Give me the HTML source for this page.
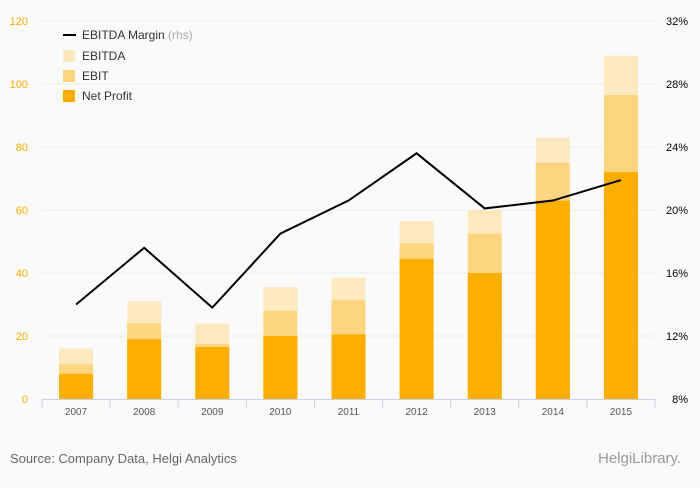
<!DOCTYPE html>
<html><head><meta charset="utf-8"><style>
body{margin:0;background:#fafafa;font-family:"Liberation Sans",sans-serif;}
svg text{font-family:"Liberation Sans",sans-serif;}
</style></head><body>
<svg width="700" height="483">
<rect width="700" height="483" fill="#fafafa"/>
<g id="grid"></g><g id="bars"></g><g id="line"></g><g id="axes"></g>
<g>
<line x1="63" y1="35" x2="76" y2="35" stroke="#000" stroke-width="2"/>
<text x="82" y="39" font-size="12" fill="#333">EBITDA Margin <tspan fill="#aaa">(rhs)</tspan></text>
<rect x="63" y="50" width="12" height="12" fill="#fde9bf"/>
<text x="82" y="60" font-size="12" fill="#333">EBITDA</text>
<rect x="63" y="70" width="12" height="12" fill="#fdd47f"/>
<text x="82" y="80" font-size="12" fill="#333">EBIT</text>
<rect x="63" y="90" width="12" height="12" fill="#f9ae00"/>
<text x="82" y="100" font-size="12" fill="#333">Net Profit</text>
</g>
<text x="10" y="463" font-size="13" fill="#666">Source: Company Data, Helgi Analytics</text>
<text x="598" y="463" font-size="15" fill="#999">HelgiLibrary.</text>
</svg>
<script>
const years=["2007","2008","2009","2010","2011","2012","2013","2014","2015"];
const netProfit=[8,19,16.5,20,20.5,44.5,40,63,72];
const ebit=[11,24,17.5,28,31.5,49.5,52.5,75,96.5];
const ebitda=[16,31,24,35.5,38.5,56.5,60,83,109];
const margin=[14.0,17.6,13.8,18.5,20.6,23.6,20.1,20.6,21.9];
const leftTicks=[0,20,40,60,80,100,120];
const rightTicks=["8%","12%","16%","20%","24%","28%","32%"];
const NS="http://www.w3.org/2000/svg";
const x0=42,x1=655,yB=399,yT=21;
const step=(x1-x0)/years.length;
const xc=i=>x0+step*(i+0.5);
const yL=v=>yB-(v/120)*(yB-yT);
const yR=v=>yB-((v-8)/24)*(yB-yT);
function mk(t,a,p){const e=document.createElementNS(NS,t);for(const k in a)e.setAttribute(k,a[k]);p.appendChild(e);return e;}
const grid=document.getElementById('grid'),bars=document.getElementById('bars'),ax=document.getElementById('axes'),ln=document.getElementById('line');
leftTicks.forEach((v,i)=>{
 if(i>0){const g=mk('line',{x1:x0,x2:x1,y1:yL(v),y2:yL(v),stroke:'#ececec'},grid);
 
 }
 const t=mk('text',{x:28,y:yL(v)+4,'font-size':11,fill:'#f9ae00','text-anchor':'end'},ax);t.textContent=v;
 
 
 const r=mk('text',{x:688,y:yL(v)+4,'font-size':11,fill:'#000','text-anchor':'end','font-weight':'500'},ax);r.textContent=rightTicks[i];
 
 
});
const bw=34;
years.forEach((y,i)=>{
 [[ebitda,'#fde9bf','ebitda-bar'],[ebit,'#fdd47f','ebit-bar'],[netProfit,'#f9ae00','net-profit-bar']].forEach(([arr,c,n])=>{
  const r=mk('rect',{x:xc(i)-bw/2,y:yL(arr[i]),width:bw,height:yB-yL(arr[i]),fill:c},bars);
  
  
 });
 const t=mk('text',{x:xc(i),y:415,'font-size':10,fill:'#555','text-anchor':'middle'},ax);t.textContent=y;
 
 
});
const al=mk('line',{x1:x0,x2:x1,y1:yB+0.5,y2:yB+0.5,stroke:'#c8d4e6'},ax);


for(let i=0;i<=years.length;i++){const tk=mk('line',{x1:x0+step*i,x2:x0+step*i,y1:yB,y2:yB+9,stroke:'#c8d4e6'},ax);
 
 }
const p=mk('polyline',{points:margin.map((m,i)=>xc(i)+','+yR(m)).join(' '),fill:'none',stroke:'#000','stroke-width':2},ln);


</script>
</body></html>
